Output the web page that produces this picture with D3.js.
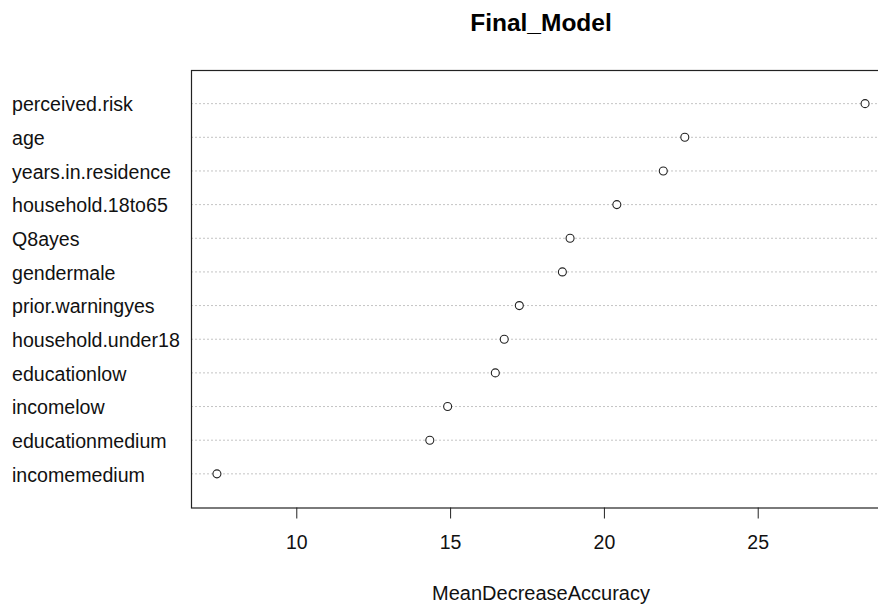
<!DOCTYPE html>
<html>
<head>
<meta charset="utf-8">
<script src="https://cdn.jsdelivr.net/npm/d3@7"></script>
<style>
  html, body { margin: 0; padding: 0; background: #fff; }
  svg { display: block; font-family: "Liberation Sans", Arial, sans-serif; }
</style>
</head>
<body>
<svg id="chart" width="878" height="606"></svg>
<script>
// Variables, top to bottom as drawn
const variables = [
  "perceived.risk", "age", "years.in.residence", "household.18to65",
  "Q8ayes", "gendermale", "prior.warningyes", "household.under18",
  "educationlow", "incomelow", "educationmedium", "incomemedium"
];
const meanDecreaseAccuracy = [
  28.49, 22.63, 21.93, 20.42,
  18.90, 18.65, 17.25, 16.76,
  16.47, 14.92, 14.34, 7.42
];
const xTicks = [10, 15, 20, 25];
const titleText = "Final_Model";
const xLabel = "MeanDecreaseAccuracy";

(function () {
const svg = d3.select("#chart");
const pLeft = 191, pRight = 891, pTop = 70, pBottom = 507.5;

const mn = d3.min(meanDecreaseAccuracy), mx = d3.max(meanDecreaseAccuracy);
const ext = 0.04 * (mx - mn);
const x = d3.scaleLinear().domain([mn - ext, mx + ext]).range([pLeft, pRight]);
const n = variables.length;
const y = d3.scaleLinear().domain([0, n + 1]).range([pBottom, pTop]);

const rows = variables.map((v, i) => ({ name: v, value: meanDecreaseAccuracy[i], pos: n - i }));

// grid lines
svg.append("g").selectAll("line").data(rows).join("line")
  .attr("x1", pLeft).attr("x2", pRight)
  .attr("y1", d => y(d.pos)).attr("y2", d => y(d.pos))
  .attr("stroke", "#c4c4c4").attr("stroke-width", 1)
  .attr("stroke-dasharray", "2,2");

// box
svg.append("rect")
  .attr("x", pLeft + 0.5).attr("y", pTop + 0.5)
  .attr("width", pRight - pLeft).attr("height", pBottom - pTop)
  .attr("fill", "none").attr("stroke", "#222").attr("stroke-width", 1.2);

// points
svg.append("g").selectAll("circle").data(rows).join("circle")
  .attr("cx", d => x(d.value)).attr("cy", d => y(d.pos))
  .attr("r", 4)
  .attr("fill", "#fff").attr("stroke", "#222").attr("stroke-width", 1.1);

// labels
svg.append("g").selectAll("text").data(rows).join("text")
  .attr("x", 12).attr("y", d => y(d.pos)).attr("dy", "0.4em")
  .attr("font-size", 19.6).attr("fill", "#111")
  .text(d => d.name);

// x axis
const ax = svg.append("g").attr("transform", `translate(0,${pBottom})`)
  .call(d3.axisBottom(x).tickValues(xTicks).tickSize(11).tickPadding(17).tickFormat(d3.format("d")));
ax.select(".domain").remove();
ax.selectAll(".tick line").attr("stroke", "#222");
ax.selectAll(".tick text").attr("font-size", 19.5).attr("fill", "#111")
  .attr("font-family", "Liberation Sans, Arial, sans-serif");

// title
svg.append("text")
  .attr("x", (pLeft + pRight) / 2).attr("y", 31)
  .attr("text-anchor", "middle").attr("font-weight", "bold").attr("font-size", 24.5)
  .attr("fill", "#000").text(titleText);

// x label
svg.append("text")
  .attr("x", (pLeft + pRight) / 2).attr("y", 600)
  .attr("text-anchor", "middle").attr("font-size", 20).attr("fill", "#111")
  .text(xLabel);
})();
</script>
</body>
</html>
